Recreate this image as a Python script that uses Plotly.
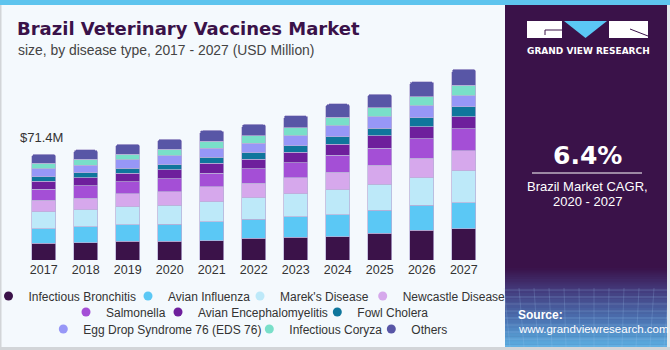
import plotly.graph_objects as go

# ---------------- data ----------------
years = ["2017", "2018", "2019", "2020", "2021", "2022", "2023", "2024", "2025", "2026", "2027"]
infectious_bronchitis = [11.3, 11.7, 12.8, 12.6, 13.1, 14.6, 15.3, 15.8, 18.2, 20.0, 21.2]
avian_influenza = [9.9, 10.8, 11.0, 11.7, 12.6, 12.8, 14.0, 14.9, 15.5, 16.9, 17.6]
mareks_disease = [11.3, 11.5, 12.2, 12.8, 13.7, 14.6, 15.3, 16.9, 17.6, 18.7, 21.4]
newcastle_disease = [7.9, 7.7, 8.6, 9.0, 10.1, 9.9, 10.8, 11.7, 12.6, 13.1, 13.5]
salmonella = [7.4, 8.3, 8.3, 8.8, 9.2, 9.9, 10.4, 11.5, 11.7, 13.3, 14.9]
avian_encephalomyelitis = [5.4, 5.4, 5.6, 5.9, 6.5, 6.3, 7.0, 7.4, 8.3, 7.9, 8.3]
fowl_cholera = [3.2, 3.4, 3.6, 3.6, 4.1, 4.5, 4.5, 5.2, 5.2, 6.3, 6.5]
egg_drop_syndrome = [5.2, 5.2, 5.6, 5.9, 6.3, 6.3, 6.8, 7.4, 7.7, 7.9, 7.7]
infectious_coryza = [3.6, 4.1, 3.8, 4.5, 4.7, 5.0, 5.4, 5.6, 6.1, 6.3, 7.0]
others = [6.2, 6.3, 6.8, 6.8, 7.2, 7.7, 8.1, 9.0, 9.2, 10.1, 10.8]

series_names = ["Infectious Bronchitis", "Avian Influenza", "Marek's Disease", "Newcastle Disease",
                "Salmonella", "Avian Encephalomyelitis", "Fowl Cholera",
                "Egg Drop Syndrome 76 (EDS 76)", "Infectious Coryza", "Others"]
series_values = [infectious_bronchitis, avian_influenza, mareks_disease, newcastle_disease,
                 salmonella, avian_encephalomyelitis, fowl_cholera,
                 egg_drop_syndrome, infectious_coryza, others]
cagr_text = "6.4%"

# ---------------- style ----------------
colors = ["#3b1249", "#5bc8f5", "#bde9f9", "#d6a8ec", "#a44fd6",
          "#6e1f9c", "#0f769c", "#9797f7", "#79dfc9", "#5856a6"]
W, H = 670, 350


def px(x):
    return x / W


def py(y):
    return 1 - y / H


BG = "#f4f9fd"
PANEL = "#3a1249"
FONT = "Liberation Sans, Arial, sans-serif"

fig = go.Figure()
for name, vals, col in zip(series_names, series_values, colors):
    fig.add_trace(go.Bar(
        x=years, y=vals, name=name, marker_color=col,
        marker_line=dict(color="rgba(185,175,215,0.9)", width=0.8),
        showlegend=False, legendgroup=name,
    ))

# legend entries (circles), one legend per entry to control placement
legend_pos = [  # (text start px, row y px)
    (24.5, 296), (164, 296), (276, 296), (398.7, 296),
    (102, 312), (194, 312), (353.3, 312),
    (79.3, 329), (285.3, 329), (407.3, 329),
]
legend_layout = {}
for i, (name, col) in enumerate(zip(series_names, colors)):
    lid = "legend" if i == 0 else f"legend{i + 1}"
    fig.add_trace(go.Scatter(
        x=[None], y=[None], mode="markers", name=name, legendgroup=name,
        marker=dict(color=col, size=9, symbol="circle"), legend=lid, showlegend=True,
    ))
    tx, ty = legend_pos[i]
    legend_layout[lid] = dict(
        x=px(tx + 4 - 40), y=py(ty), xanchor="left", yanchor="middle",
        orientation="h", bgcolor="rgba(0,0,0,0)", borderwidth=0,
        font=dict(family=FONT, size=12, color="#333333"),
        itemwidth=30, itemclick=False, itemdoubleclick=False,
    )

shapes = []
# top strip
shapes.append(dict(type="rect", xref="paper", yref="paper", x0=0, x1=1, y0=py(5), y1=1,
                   fillcolor="#5ec4ee", line=dict(width=0), layer="below"))
# right panel
shapes.append(dict(type="rect", xref="paper", yref="paper", x0=px(505), x1=px(667), y0=py(347), y1=py(5),
                   fillcolor=PANEL, line=dict(width=0), layer="below"))


# bottom gradient on the panel
def lerp(c1, c2, t):
    a = [int(c1[i:i + 2], 16) for i in (1, 3, 5)]
    b = [int(c2[i:i + 2], 16) for i in (1, 3, 5)]
    return "#" + "".join(f"{int(round(a[k] + (b[k] - a[k]) * t)):02x}" for k in range(3))


stops = [(268, PANEL), (290, "#433a7c"), (320, "#4b73b2"), (347, "#5cb0e2")]
for s in range(len(stops) - 1):
    y0, c0 = stops[s]
    y1, c1 = stops[s + 1]
    n = 10
    for k in range(n):
        ya = y0 + (y1 - y0) * k / n
        yb = y0 + (y1 - y0) * (k + 1) / n
        shapes.append(dict(type="rect", xref="paper", yref="paper", x0=px(505), x1=px(667),
                           y0=py(yb + 0.5), y1=py(ya), fillcolor=lerp(c0, c1, (k + 0.5) / n),
                           line=dict(width=0), layer="below"))
# faint grid lines in the gradient area
for k in range(9):
    yy = 290 + k * 7
    shapes.append(dict(type="line", xref="paper", yref="paper", x0=px(505), x1=px(667),
                       y0=py(yy), y1=py(yy), line=dict(color="rgba(160,200,240,0.25)", width=1), layer="below"))
for k in range(12):
    xx = 510 + k * 14
    shapes.append(dict(type="line", xref="paper", yref="paper", x0=px(xx), x1=px(xx - 6 + k),
                       y0=py(347), y1=py(288), line=dict(color="rgba(160,200,240,0.2)", width=1), layer="below"))
# outer borders
shapes.append(dict(type="rect", xref="paper", yref="paper", x0=px(667), x1=1, y0=0, y1=py(5),
                   fillcolor="#e3e8ec", line=dict(width=0), layer="below"))
shapes.append(dict(type="rect", xref="paper", yref="paper", x0=0, x1=1, y0=0, y1=py(347),
                   fillcolor="#d2d5d8", line=dict(width=0), layer="below"))
shapes.append(dict(type="rect", xref="paper", yref="paper", x0=0, x1=px(1.5), y0=0, y1=py(5),
                   fillcolor="#d2d5d8", line=dict(width=0), layer="below"))

# logo
shapes.append(dict(type="rect", xref="paper", yref="paper", x0=px(527), x1=px(562), y0=py(38), y1=py(21),
                   fillcolor="white", line=dict(width=0)))
shapes.append(dict(type="path", xref="paper", yref="paper",
                   path=f"M {px(545)},{py(35)} L {px(545)},{py(30)} L {px(562)},{py(30)}",
                   line=dict(color=PANEL, width=1)))
shapes.append(dict(type="path", xref="paper", yref="paper",
                   path=f"M {px(564)},{py(21)} L {px(607)},{py(21)} L {px(585.5)},{py(38)} Z",
                   fillcolor="#5bc8f5", line=dict(width=0)))
shapes.append(dict(type="rect", xref="paper", yref="paper", x0=px(609), x1=px(648), y0=py(38), y1=py(21),
                   fillcolor="white", line=dict(width=0)))
shapes.append(dict(type="path", xref="paper", yref="paper",
                   path=f"M {px(630)},{py(29)} L {px(648)},{py(36)}",
                   line=dict(color=PANEL, width=1)))
# CAGR separator line
shapes.append(dict(type="line", xref="paper", yref="paper", x0=px(532), x1=px(642), y0=py(173), y1=py(173),
                   line=dict(color="white", width=1)))

total_2017 = round(sum(v[0] for v in series_values), 1)

annotations = [
    dict(text="<b>Brazil Veterinary Vaccines Market</b>", x=px(15), y=py(29), xref="paper", yref="paper",
         xanchor="left", yanchor="middle", showarrow=False,
         font=dict(family="DejaVu Sans, sans-serif", size=18, color="#3a1249")),
    dict(text="size, by disease type, 2017 - 2027 (USD Million)", x=px(16), y=py(50), xref="paper", yref="paper",
         xanchor="left", yanchor="middle", showarrow=False,
         font=dict(family=FONT, size=13.9, color="#444444")),
    dict(text=f"${total_2017}M", x=px(18), y=py(137), xref="paper", yref="paper",
         xanchor="left", yanchor="middle", showarrow=False,
         font=dict(family=FONT, size=13, color="#333333")),
    dict(text="GRAND VIEW RESEARCH", x=px(588), y=py(51), xref="paper", yref="paper",
         xanchor="center", yanchor="middle", showarrow=False,
         font=dict(family="DejaVu Sans, sans-serif", size=9, color="white", weight="bold")),
    dict(text=f"<b>{cagr_text}</b>", x=px(587), y=py(155), xref="paper", yref="paper",
         xanchor="center", yanchor="middle", showarrow=False,
         font=dict(family="DejaVu Sans, sans-serif", size=25, color="white")),
    dict(text="Brazil Market CAGR,", x=px(587), y=py(186), xref="paper", yref="paper",
         xanchor="center", yanchor="middle", showarrow=False,
         font=dict(family=FONT, size=13, color="white")),
    dict(text="2020 - 2027", x=px(587), y=py(201), xref="paper", yref="paper",
         xanchor="center", yanchor="middle", showarrow=False,
         font=dict(family=FONT, size=13, color="white")),
    dict(text="<b>Source:</b>", x=px(516), y=py(315), xref="paper", yref="paper",
         xanchor="left", yanchor="middle", showarrow=False,
         font=dict(family=FONT, size=12, color="white")),
    dict(text="www.grandviewresearch.com", x=px(516), y=py(329), xref="paper", yref="paper",
         xanchor="left", yanchor="middle", showarrow=False,
         font=dict(family=FONT, size=11.5, color="white")),
]

fig.update_layout(
    width=W, height=H, margin=dict(l=0, r=0, t=0, b=0, pad=0, autoexpand=False),
    paper_bgcolor=BG, plot_bgcolor=BG,
    barmode="stack", bargap=0.43, barcornerradius=3,
    xaxis=dict(domain=[px(22.7), px(484.8)], type="category", showgrid=False, showline=False,
               zeroline=False, ticks="", tickfont=dict(family=FONT, size=12.5, color="#333333"),
               fixedrange=True),
    yaxis=dict(domain=[py(260), py(60)], range=[0, 135.1], visible=False, fixedrange=True),
    shapes=shapes, annotations=annotations,
    hovermode=False,
    **legend_layout,
)

fig.write_html("out.html")
